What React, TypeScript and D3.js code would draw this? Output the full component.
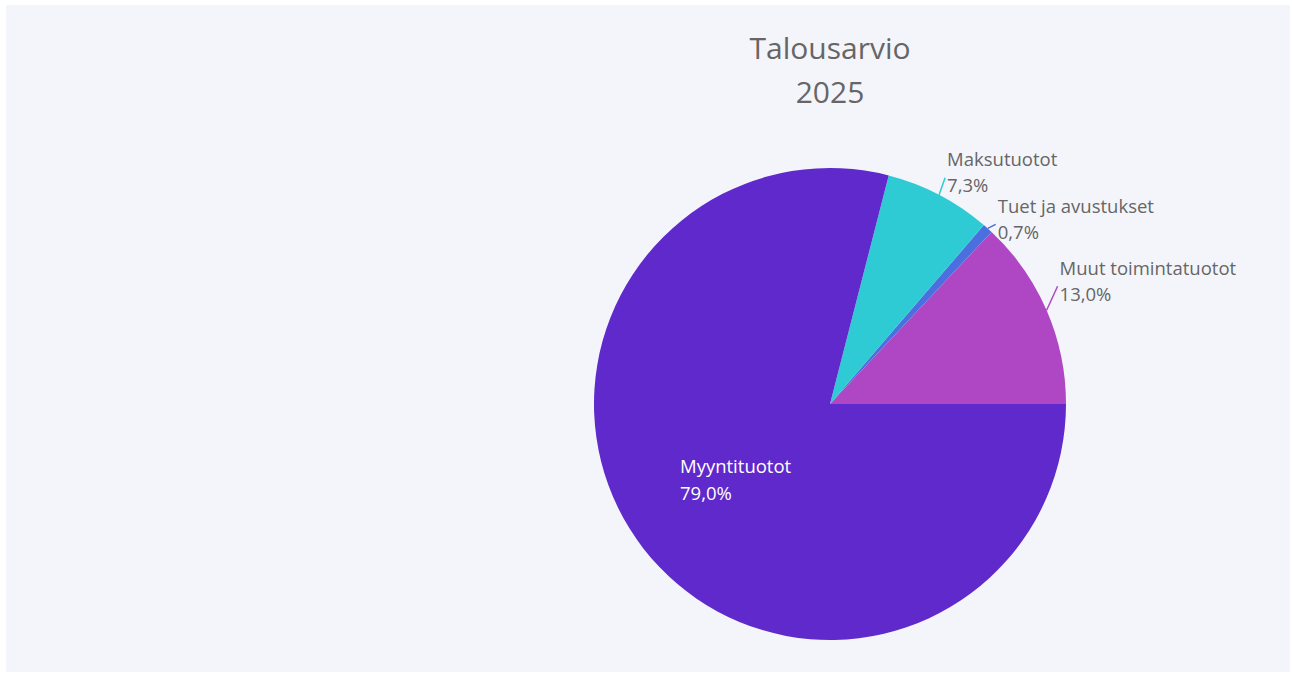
import { useEffect, useRef } from 'react';
import * as d3 from 'd3';

// Talousarvio 2025 – tulojen jakauma
const categories = ['Muut toimintatuotot', 'Tuet ja avustukset', 'Maksutuotot', 'Myyntituotot'];
const shares = [13.0, 0.7, 7.3, 79.0];
const sliceColors = ['#AF46C3', '#4C6FE0', '#2ECBD4', '#6029CB'];
const titleLines = ['Talousarvio', '2025'];

// label line end offsets relative to outer arc point (layout only)
const labelOffsets: Record<string, [number, number]> = {
  'Muut toimintatuotot': [11, -24],
  'Tuet ja avustukset': [8, -4],
  'Maksutuotot': [6, -17],
};

const W = 1292;
const H = 674;

export default function App() {
  const svgRef = useRef<SVGSVGElement>(null);

  useEffect(() => {
    if (!svgRef.current) return;
    const svg = d3.select(svgRef.current);
    svg.selectAll('*').remove();

    const font = '"Open Sans", "Noto Sans", sans-serif';
    const cx = 830;
    const cy = 404;
    const radius = 236;
    const labelSize = 18.5;

    svg.append('rect').attr('width', W).attr('height', H).attr('fill', '#ffffff');
    svg.append('rect')
      .attr('x', 6).attr('y', 5)
      .attr('width', 1284).attr('height', 667)
      .attr('fill', '#f4f5fa');

    // title
    svg.append('g')
      .selectAll('text')
      .data(titleLines)
      .join('text')
      .attr('x', cx)
      .attr('y', (_, i) => 47 + i * 44)
      .attr('text-anchor', 'middle')
      .attr('dominant-baseline', 'central')
      .attr('font-family', font)
      .attr('font-size', 30)
      .attr('fill', '#666666')
      .text(d => d);

    const data = categories.map((c, i) => ({ label: c, value: shares[i], color: sliceColors[i] }));

    // counterclockwise from 3 o'clock
    const pie = d3.pie<any>()
      .value(d => d.value)
      .sort(null)
      .startAngle(Math.PI / 2)
      .endAngle(Math.PI / 2 - 2 * Math.PI);

    const arcs = pie(data);
    const arc = d3.arc<any>().innerRadius(0).outerRadius(radius);

    const g = svg.append('g').attr('transform', `translate(${cx},${cy})`);

    g.selectAll('path')
      .data(arcs)
      .join('path')
      .attr('d', arc as any)
      .attr('fill', d => d.data.color);

    const fmt = (v: number) => v.toFixed(1).replace('.', ',') + '%';

    arcs.forEach(a => {
      const mid = (a.startAngle + a.endAngle) / 2;
      const px = Math.sin(mid) * radius;
      const py = -Math.cos(mid) * radius;
      const off = labelOffsets[a.data.label];
      if (off) {
        const ex = px + off[0];
        const ey = py + off[1];
        g.append('line')
          .attr('x1', px).attr('y1', py)
          .attr('x2', ex).attr('y2', ey)
          .attr('stroke', a.data.color)
          .attr('stroke-width', 1.5);
        const t = g.append('text')
          .attr('font-family', font)
          .attr('font-size', labelSize)
          .attr('fill', '#666666');
        t.append('tspan').attr('x', ex + 2).attr('y', ey - 19).attr('dominant-baseline', 'central').text(a.data.label);
        t.append('tspan').attr('x', ex + 2).attr('y', ey + 7).attr('dominant-baseline', 'central').text(fmt(a.data.value));
      } else {
        // inside label
        const t = g.append('text')
          .attr('font-family', font)
          .attr('font-size', labelSize)
          .attr('fill', '#ffffff');
        t.append('tspan').attr('x', 680 - cx).attr('y', 465 - cy).attr('dominant-baseline', 'central').text(a.data.label);
        t.append('tspan').attr('x', 680 - cx).attr('y', 492 - cy).attr('dominant-baseline', 'central').text(fmt(a.data.value));
      }
    });
  }, []);

  return (
    <div style={{ position: 'fixed', left: 0, top: 0, width: W, height: H }}>
      <svg ref={svgRef} width={W} height={H} style={{ display: 'block' }} />
    </div>
  );
}
